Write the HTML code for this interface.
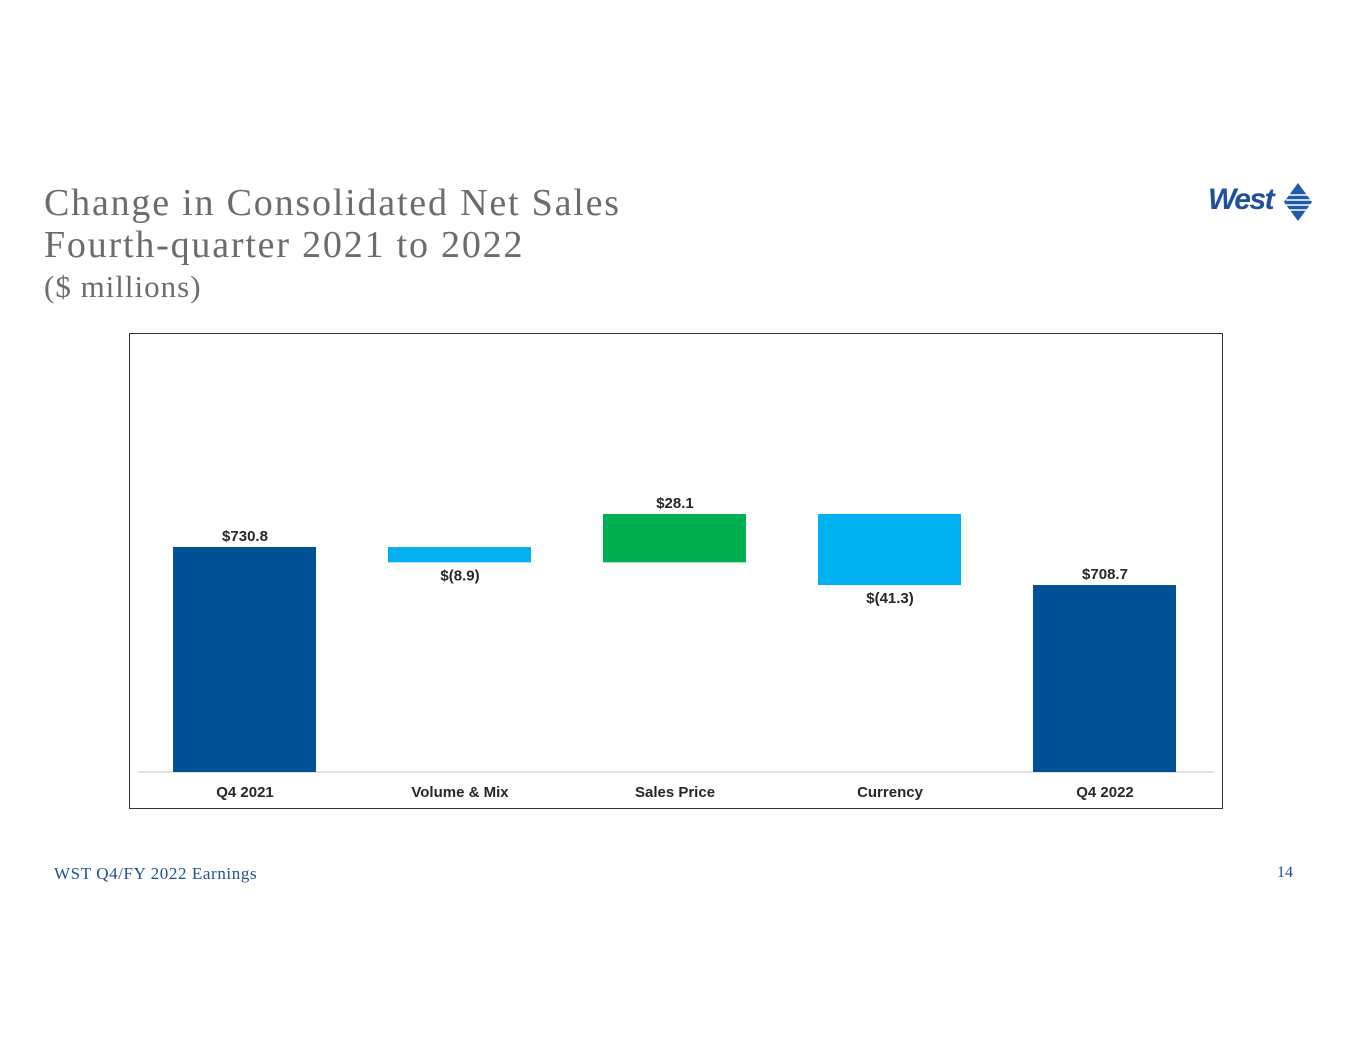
<!DOCTYPE html>
<html><head><meta charset="utf-8"><style>
body{margin:0;width:1365px;height:1055px;background:#fff;position:relative;overflow:hidden;font-family:"Liberation Sans",sans-serif}
.t{position:absolute;left:44px;font-family:"Liberation Serif",serif;color:#6f6a6a;font-size:38px;line-height:40px;letter-spacing:1.8px}
</style></head><body>
<div class="t" style="top:183px">Change in Consolidated Net Sales</div>
<div class="t" style="top:225px">Fourth-quarter 2021 to 2022</div>
<div class="t" style="top:267px;font-size:31px;letter-spacing:1px">($ millions)</div>
<div style="position:absolute;left:1208px;top:183px;font:italic bold 30px 'Liberation Sans',sans-serif;color:#1f4e9a;letter-spacing:-1.5px">West</div>
<svg style="position:absolute;left:1282px;top:181px" width="32" height="42"><polygon points="16,2 30,21 16,40 2,21" fill="#1f5aa6"/><g stroke="#fff" stroke-width="1.5"><line x1="4" y1="14" x2="28" y2="14"/><line x1="4" y1="19" x2="30" y2="19"/><line x1="4" y1="24" x2="30" y2="24"/><line x1="4" y1="29" x2="26" y2="29"/></g></svg>
<svg id="c" width="1365" height="1055" style="position:absolute;left:0;top:0">
<rect x="129.5" y="333.5" width="1093" height="475" fill="none" stroke="#333"/>
<line x1="138" y1="772" x2="1214" y2="772" stroke="#d9d9d9" stroke-width="1.5"/>
</svg>
<div style="position:absolute;left:54px;top:864px;font:17px 'Liberation Serif',serif;color:#1f4e9a;letter-spacing:0.6px">WST Q4/FY 2022 Earnings</div>
<div style="position:absolute;left:1277px;top:864px;font:16px 'Liberation Serif',serif;color:#1f4e9a">14</div>
<script>
const categories=["Q4 2021","Volume & Mix","Sales Price","Currency","Q4 2022"];
const values=[730.8,-8.9,28.1,-41.3,708.7];
const kinds=["total","delta","delta","delta","total"];
const labels=["$730.8","$(8.9)","$28.1","$(41.3)","$708.7"];
const yMin=600,base=772,k=1.72;
const y=v=>base-(v-yMin)*k;
const x=i=>245+i*215;
const svg=document.getElementById('c');const NS='http://www.w3.org/2000/svg';
let run=0;
categories.forEach((c,i)=>{
  let v=values[i],top,bot,col;
  if(kinds[i]==='total'){run=v;top=y(v);bot=base;col='#005195';}
  else{const a=run,b=run+v;run=b;top=y(Math.max(a,b));bot=y(Math.min(a,b));col=v<0?'#00b0f0':'#00b050';}
  const r=document.createElementNS(NS,'rect');
  
  
  r.setAttribute('x',x(i)-72);r.setAttribute('width',143);r.setAttribute('y',top);r.setAttribute('height',bot-top);r.setAttribute('fill',col);
  svg.appendChild(r);
  const t=document.createElementNS(NS,'text');
  
  
  const below=v<0;
  t.setAttribute('x',x(i));t.setAttribute('y',below?bot+18:top-6);
  t.setAttribute('text-anchor','middle');t.setAttribute('font-size','15');t.setAttribute('font-weight','bold');t.setAttribute('fill','#262626');
  t.textContent=labels[i];svg.appendChild(t);
  const l=document.createElementNS(NS,'text');
  
  
  l.setAttribute('x',x(i));l.setAttribute('y',797);l.setAttribute('text-anchor','middle');l.setAttribute('font-size','15');l.setAttribute('font-weight','bold');l.setAttribute('fill','#262626');
  l.textContent=c;svg.appendChild(l);
});
</script>
</body></html>
